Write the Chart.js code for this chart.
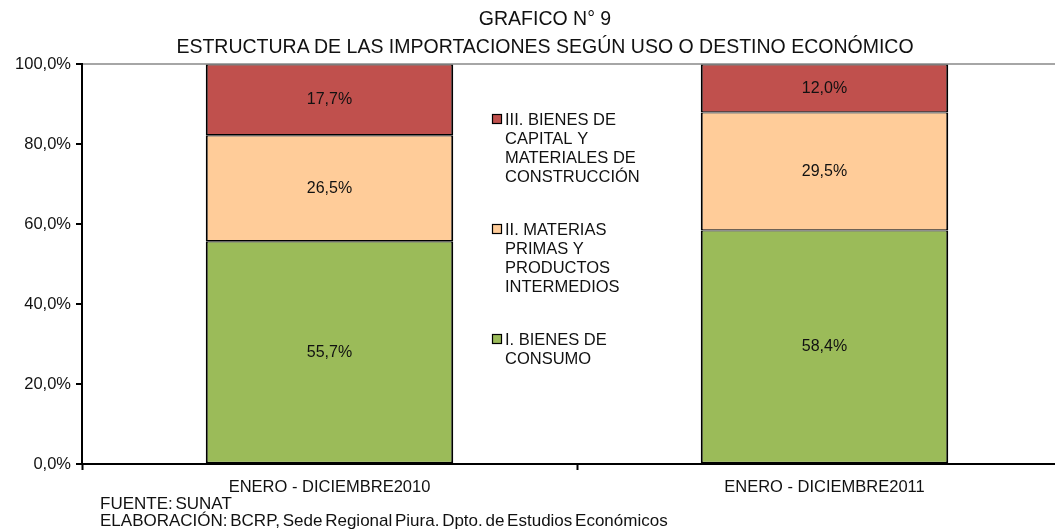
<!DOCTYPE html>
<html lang="es">
<head>
<meta charset="UTF-8">
<title>Estructura de las importaciones</title>
<script src="https://cdn.jsdelivr.net/npm/chart.js"></script>
<style>
    html, body { margin: 0; padding: 0; background: #fff; }
    body { width: 1055px; height: 530px; overflow: hidden; position: relative;
           font-family: "Liberation Sans", Arial, sans-serif; color: #111; }
    #wrap { position: absolute; left: 0; top: 0; width: 1075px; height: 530px; }
    .title { position: absolute; left: 0; width: 1090px; text-align: center;
             font-size: 19.5px; line-height: 22px; }
    .foot { position: absolute; left: 100px; font-size: 17px; line-height: 18px;
            word-spacing: -2px; white-space: nowrap; }
</style>
</head>
<body>
<div id="wrap"><canvas id="chart" width="1075" height="530"></canvas></div>
<div class="title" style="top:7px">GRAFICO N° 9</div>
<div class="title" style="top:35px">ESTRUCTURA DE LAS IMPORTACIONES SEGÚN USO O DESTINO ECONÓMICO</div>
<div class="foot" style="top:495px">FUENTE: SUNAT</div>
<div class="foot" style="top:512px">ELABORACIÓN: BCRP, Sede Regional Piura. Dpto. de Estudios Económicos</div>

<script>
const categories = ['ENERO - DICIEMBRE2010', 'ENERO - DICIEMBRE2011'];
const bienesConsumo = [55.7, 58.4];
const materiasPrimas = [26.5, 29.5];
const bienesCapital = [17.7, 12.0];
const yTicks = [0, 20, 40, 60, 80, 100];
const legendLines = [
    ['I. BIENES DE', 'CONSUMO'],
    ['II. MATERIAS', 'PRIMAS Y', 'PRODUCTOS', 'INTERMEDIOS'],
    ['III. BIENES DE', 'CAPITAL Y', 'MATERIALES DE', 'CONSTRUCCIÓN']
];

const FONT = '"Liberation Sans", Arial, sans-serif';
const pct = v => v.toFixed(1).replace('.', ',') + '%';

// valores dentro de cada segmento
const valueLabels = {
    id: 'valueLabels',
    afterDatasetsDraw(chart) {
        const ctx = chart.ctx;
        ctx.save();
        ctx.font = '16px ' + FONT;
        ctx.fillStyle = '#111';
        ctx.textAlign = 'center';
        ctx.textBaseline = 'middle';
        chart.data.datasets.forEach((ds, i) => {
            chart.getDatasetMeta(i).data.forEach((bar, j) => {
                ctx.fillText(pct(ds.data[j]), bar.x, (bar.y + bar.base) / 2);
            });
        });
        ctx.restore();
    }
};

// leyenda entre las barras
const middleLegend = {
    id: 'middleLegend',
    afterDraw(chart) {
        const ctx = chart.ctx;
        const sets = chart.data.datasets;
        ctx.save();
        ctx.font = '16.5px ' + FONT;
        ctx.textBaseline = 'middle';
        for (let k = 0; k < sets.length; k++) {
            const ds = sets[sets.length - 1 - k];
            const y0 = 120 + 110 * k;
            ctx.fillStyle = ds.backgroundColor;
            ctx.fillRect(492.5, y0 - 5.5, 9, 9);
            ctx.strokeStyle = '#000';
            ctx.lineWidth = 1.2;
            ctx.strokeRect(492.5, y0 - 5.5, 9, 9);
            ctx.fillStyle = '#111';
            ds.legend.forEach((line, j) => ctx.fillText(line, 505, y0 + j * 19));
        }
        ctx.restore();
    }
};

new Chart(document.getElementById('chart'), {
    type: 'bar',
    data: {
        labels: categories,
        datasets: [
            { label: 'I. BIENES DE CONSUMO', legend: legendLines[0], data: bienesConsumo, backgroundColor: '#9BBB59' },
            { label: 'II. MATERIAS PRIMAS Y PRODUCTOS INTERMEDIOS', legend: legendLines[1], data: materiasPrimas, backgroundColor: '#FFCC99' },
            { label: 'III. BIENES DE CAPITAL Y MATERIALES DE CONSTRUCCIÓN', legend: legendLines[2], data: bienesCapital, backgroundColor: '#C0504D' }
        ]
    },
    options: {
        responsive: false,
        animation: false,
        layout: { padding: { top: 64, right: 3, left: 0, bottom: 0 } },
        datasets: {
            bar: {
                categoryPercentage: 0.5,
                barPercentage: 1,
                borderColor: '#000',
                borderWidth: { left: 2, right: 2, top: 1.2, bottom: 1.2 },
                borderSkipped: false
            }
        },
        scales: {
            x: {
                stacked: true,
                afterFit: s => { s.height = 66; },
                grid: { offset: true, drawOnChartArea: false, tickLength: 6, tickColor: '#000', tickWidth: 2 },
                border: { color: '#000', width: 2 },
                ticks: { color: '#111', font: { family: FONT, size: 16.5 }, padding: 8 }
            },
            y: {
                stacked: true,
                min: 0,
                max: 100,
                afterFit: s => { s.width = 82; },
                afterBuildTicks: s => { s.ticks = yTicks.map(v => ({ value: v })); },
                grid: {
                    color: c => (c.tick && c.tick.value === 100) ? '#A6A6A6' : 'rgba(0,0,0,0)',
                    lineWidth: 2,
                    tickLength: 6,
                    tickColor: '#000',
                    tickWidth: 2
                },
                border: { color: '#000', width: 2 },
                ticks: { color: '#111', font: { family: FONT, size: 16.5 }, padding: 5, callback: v => pct(v) }
            }
        },
        plugins: {
            legend: { display: false },
            title: { display: false },
            tooltip: { enabled: false }
        }
    },
    plugins: [valueLabels, middleLegend]
});
</script>
</body>
</html>
